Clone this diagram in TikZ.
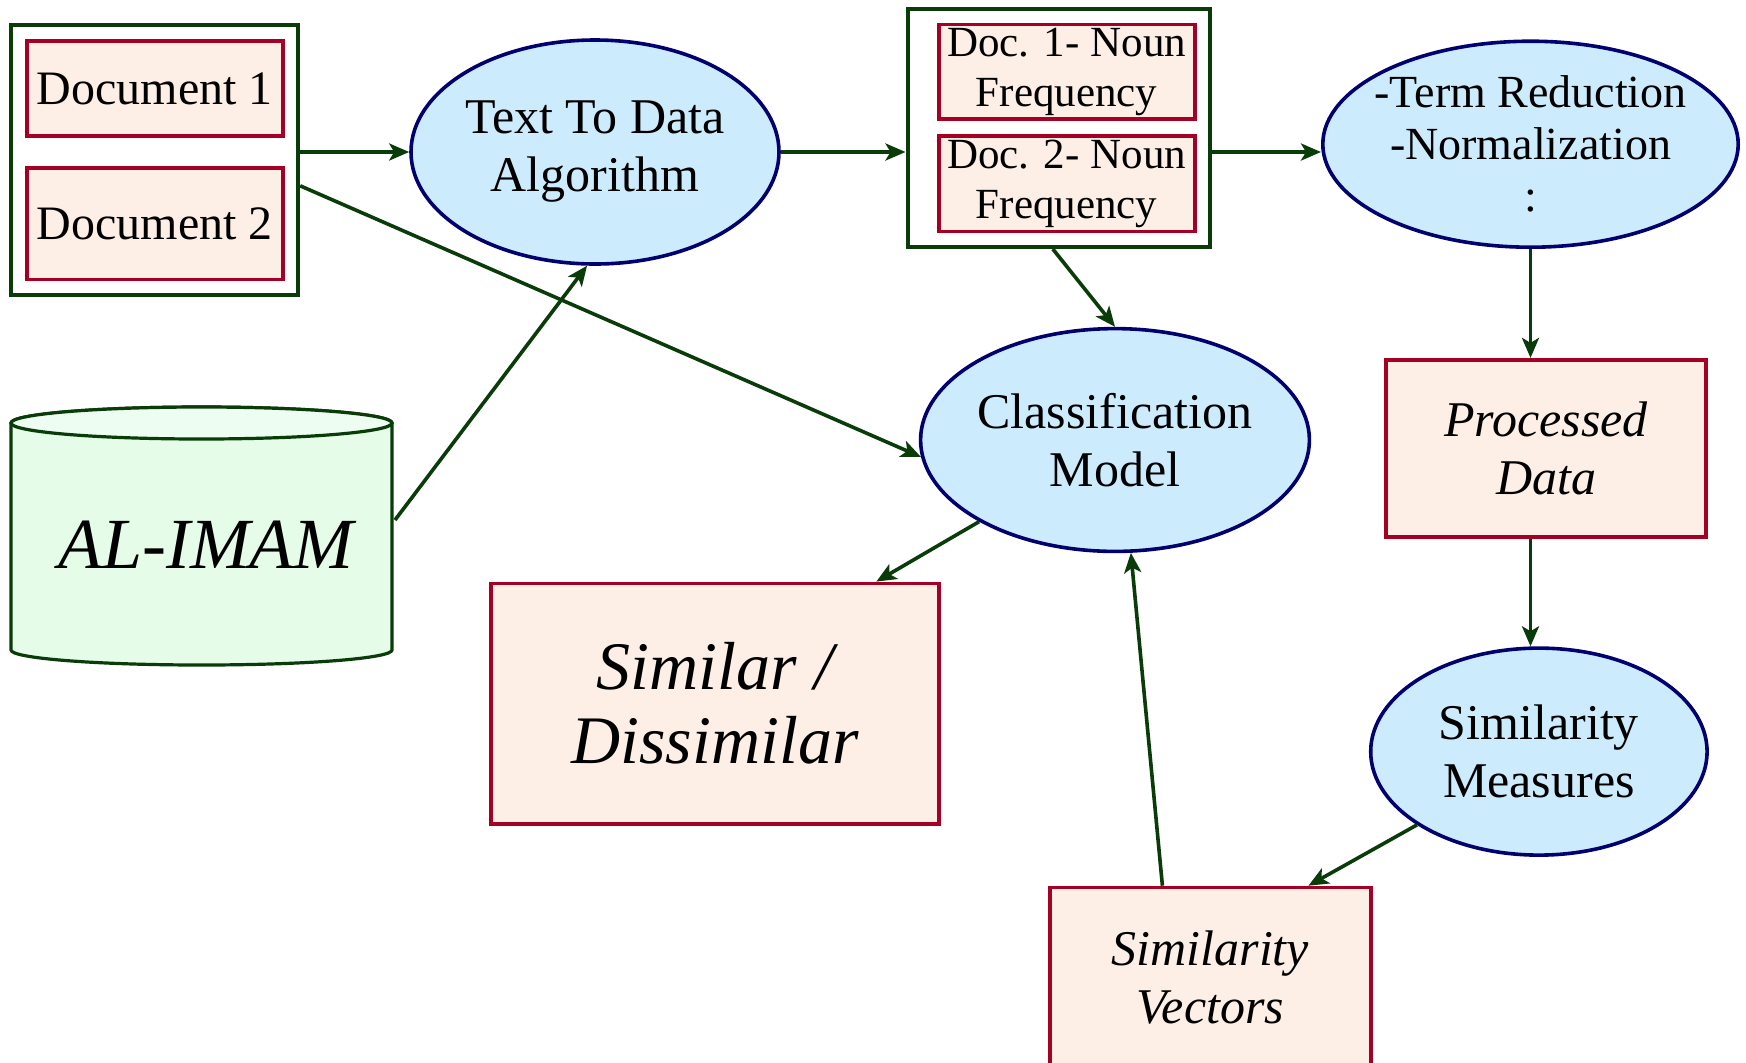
\documentclass[tikz,border=0pt]{standalone}
\usepackage{fontspec}
\setmainfont{Liberation Serif}
\usetikzlibrary{arrows.meta,shapes.geometric}
\definecolor{lnk}{RGB}{10,60,10}
\definecolor{redb}{RGB}{165,0,35}
\definecolor{peach}{RGB}{253,239,229}
\definecolor{skyb}{RGB}{204,236,254}
\definecolor{navyb}{RGB}{0,0,110}
\definecolor{mintf}{RGB}{228,252,232}
\definecolor{mintt}{RGB}{238,253,241}
\begin{document}
\begin{tikzpicture}[x=0.5pt,y=-0.5pt,
 conn/.style={draw=lnk, line width=1.8pt, -{Stealth[length=10pt,width=8.5pt,inset=2.5pt]}},
 grp/.style={draw=lnk, line width=2pt, fill=white, inner sep=0pt},
 pbox/.style={draw=redb, line width=1.8pt, fill=peach, inner sep=0pt, align=center},
 oval/.style={ellipse, draw=navyb, line width=1.8pt, fill=skyb, inner sep=0pt, align=center},
 fa/.style={font=\fontsize{24}{28}\selectfont},
 fb/.style={font=\fontsize{25}{29}\selectfont},
 fc/.style={font=\fontsize{21.5}{25}\selectfont},
]
\useasboundingbox (0,0) rectangle (1746,1062);
\clip (0,0) rectangle (1746,1062);

% left document group
\node[grp, minimum width=143.5pt, minimum height=135.3pt] (outer) at (154.7,159.8) {};
\node[pbox, fa, minimum width=128pt, minimum height=47.3pt] (doc1) at (154.8,88.5) {Document 1};
\node[pbox, fa, minimum width=128pt, minimum height=55.8pt] (doc2) at (154.8,223.8) {Document 2};

% text to data
\node[oval, fb, minimum width=184pt, minimum height=112pt] (ttd) at (595,152) {Text To Data\\Algorithm};

% frequency group
\node[grp, minimum width=151.3pt, minimum height=119pt] (freq) at (1058.8,128) {};
\node[pbox, fc, minimum width=128pt, minimum height=47.3pt] (f1) at (1066.7,71.8) {Doc. 1- Noun\\Frequency};
\node[pbox, fc, minimum width=128pt, minimum height=47.9pt] (f2) at (1066.7,183.7) {Doc. 2- Noun\\Frequency};

% term reduction
\node[oval, minimum width=207.7pt, minimum height=103pt,
  label={[align=center, font=\fontsize{23}{26}\selectfont]center:{-Term Reduction\\-Normalization\\:}}] (term) at (1530.5,144.2) {};

% classification
\node[oval, fb, minimum width=192pt, minimum height=111.4pt] (cls) at (1115,440) {Classification\\Model};

% processed data
\node[pbox, fb, minimum width=159.8pt, minimum height=88.5pt] (proc) at (1546,448.2) {\itshape Processed\\\itshape Data};

% similarity measures
\node[oval, fb, minimum width=168.2pt, minimum height=103.5pt] (meas) at (1538.9,751.6) {Similarity\\Measures};

% similarity vectors
\node[pbox, fb, minimum width=160.4pt, minimum height=90.1pt] (vec) at (1210.4,977.6) {\itshape Similarity\\\itshape Vectors};

% similar / dissimilar
\node[pbox, font=\fontsize{34}{37}\selectfont, minimum width=223.9pt, minimum height=120.3pt] (sim) at (714.9,703.7) {\itshape Similar /\\\itshape Dissimilar};

% cylinder
\path[draw=lnk, line width=1.6pt, fill=mintf] (11,423) -- (11,650)
  arc[start angle=180, end angle=360, x radius=95.25pt, y radius=7.5pt]
  -- (392,423)
  arc[start angle=0, end angle=180, x radius=95.25pt, y radius=8pt] -- cycle;
\draw[lnk, line width=1.6pt, fill=mintt] (201.5,423) ellipse[x radius=95.25pt, y radius=8pt];
\node[font=\fontsize{36}{40}\selectfont\itshape] (db) at (206,545) {AL-IMAM};
\coordinate (dbout) at (395,520);

% connectors
\draw[conn] (outer.east |- ttd.west) -- (ttd.west);
\draw[conn] (ttd.east) -- (ttd.east -| freq.west);
\draw[conn] (ttd.east -| freq.east) -- (term.west |- ttd.east);
\draw[conn] (term.south) -- (term.south |- proc.north);
\draw[conn] (term.south |- proc.south) -- (term.south |- meas.north);
\draw[conn] (meas.211) -- ([xshift=49pt]vec.north);
\draw[conn] ([xshift=-24pt]vec.north) -- (cls.-82);
\draw[conn] (cls.211) -- ([xshift=80.7pt]sim.north);
\draw[conn] ([xshift=-3pt]freq.south) -- (cls.north);
\draw[conn] ([yshift=-13pt]outer.east) -- (cls.185);
\draw[conn] (dbout) -- (ttd.-94);
\end{tikzpicture}
\end{document}
